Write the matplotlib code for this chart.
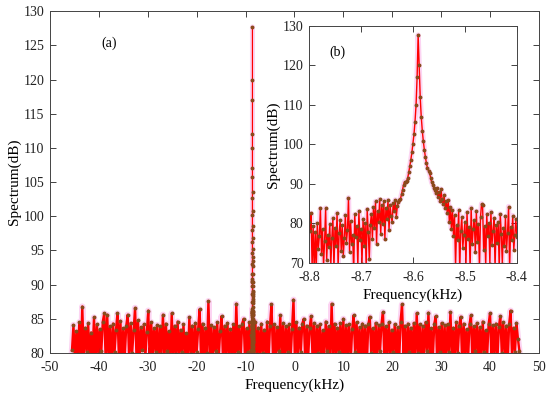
import numpy as np
import matplotlib
matplotlib.use('Agg')
import matplotlib.pyplot as plt

plt.rcParams['font.family'] = ['Liberation Serif', 'DejaVu Serif']
plt.rcParams['axes.unicode_minus'] = False

# broadband spectrum, -45.5 .. 46 kHz (dB)
noise_db = [
    80.4, 84.1, 78.6, 83.2, 79.8, 84.5, 78.1, 86.8, 79.5, 83.7, 80.2, 84.4, 78.9, 83.0, 79.6, 85.2, 78.4, 84.2,
    79.9, 83.5, 80.3, 84.6, 85.8, 78.7, 85.6, 79.4, 83.9, 78.2, 84.3, 80.1, 83.4, 85.8, 79.2, 84.7, 78.5, 83.6,
    79.7, 84.0, 85.6, 78.8, 84.4, 80.0, 83.3, 86.6, 79.1, 84.8, 78.3, 83.8, 80.4, 84.2, 79.3, 83.1, 86.2, 78.6,
    84.5, 79.5, 83.6, 80.2, 84.1, 78.4, 83.9, 79.9, 85.6, 78.9, 84.3, 80.3, 83.2, 79.0, 85.8, 78.6, 84.0, 79.8,
    84.6, 78.7, 83.4, 80.1, 84.2, 79.3, 82.9, 78.5, 85.2, 79.9, 84.0, 78.2, 84.4, 80.2, 83.5, 86.4, 79.0, 84.3,
    78.8, 83.7, 80.0, 87.6, 79.4, 84.1, 78.3, 83.8, 80.3, 84.5, 79.1, 83.2, 85.4, 78.6, 84.0, 79.7, 84.4, 78.9,
    83.5, 79.6, 84.2, 78.5, 87.2, 80.1, 83.9, 79.2, 84.3, 85.0, 78.7, 83.6, 80.2, 84.5, 79.0, 84.0, 78.4, 84.6,
    79.8, 83.7, 78.6, 84.3, 80.0, 83.4, 79.3, 84.6, 78.8, 84.0, 87.1, 79.5, 84.2, 78.3, 83.8, 80.3, 85.5, 79.1,
    84.4, 78.7, 83.9, 80.1, 84.2, 79.0, 83.5, 87.8, 78.5, 84.5, 79.8, 83.7, 80.2, 84.3, 85.0, 78.9, 84.0, 79.4,
    83.6, 85.4, 79.2, 84.4, 78.4, 84.0, 80.0, 84.2, 78.8, 83.3, 79.7, 84.6, 80.3, 83.9, 78.6, 87.2, 79.5, 84.3,
    78.9, 83.7, 80.1, 84.4, 79.0, 85.0, 78.2, 84.1, 79.8, 84.2, 78.7, 83.5, 85.5, 80.2, 84.5, 79.3, 83.8, 78.5,
    84.3, 79.6, 84.0, 78.4, 84.2, 85.3, 80.0, 83.6, 79.1, 84.4, 78.8, 84.1, 80.3, 84.3, 86.0, 78.6, 83.9, 79.7,
    84.5, 78.9, 83.4, 80.1, 84.2, 79.2, 83.8, 78.5, 84.6, 87.1, 79.9, 84.0, 78.3, 84.3, 80.2, 83.7, 79.0, 84.4,
    78.7, 85.8, 80.0, 84.2, 78.4, 83.9, 79.6, 84.5, 80.3, 85.9, 78.8, 83.6, 79.4, 84.3, 85.4, 78.2, 83.8, 80.1,
    84.4, 79.0, 84.1, 78.6, 84.2, 80.2, 86.0, 79.3, 83.7, 78.9, 84.5, 80.0, 84.0, 85.3, 78.5, 84.3, 79.7, 83.5,
    79.1, 84.2, 85.5, 78.4, 83.9, 80.3, 84.4, 79.2, 83.8, 78.7, 84.6, 80.1, 83.3, 79.5, 84.2, 85.8, 78.6, 84.1,
    79.8, 84.3, 78.9, 83.8, 85.4, 80.0, 84.5, 79.3, 84.0, 78.6, 84.2, 86.2, 79.4, 83.7, 80.2, 84.4, 82.1, 80.3,
]
noise_start, noise_stop = -45.5, 46.0

# zoomed spectrum around the tone, -8.8 .. -8.4 kHz (dB)
zoom_db = [
    80.5, 78.2, 82.6, 69.0, 79.3, 68.0, 77.8, 68.5, 80.2, 73.6, 76.9, 83.8, 72.4, 78.7, 69.2, 75.5, 83.9, 70.8, 77.2, 74.0,
    79.8, 69.5, 76.3, 81.4, 68.5, 78.9, 74.2, 82.7, 69.0, 77.5, 80.9, 73.1, 79.6, 71.8, 76.4, 82.2, 75.0, 78.3, 86.5, 72.9,
    80.6, 74.8, 77.1, 67.5, 82.3, 76.5, 79.4, 69.0, 83.1, 75.9, 78.6, 69.8, 81.2, 74.4, 80.1, 68.8, 83.6, 77.9, 70.9, 79.7,
    82.4, 76.2, 84.1, 78.8, 85.6, 74.9, 83.2, 80.5, 86.1, 77.3, 84.6, 79.9, 85.8, 76.1, 83.9, 81.2, 85.9, 78.4, 84.8, 82.0,
    80.3, 85.2, 83.1, 86.0, 81.7, 84.4, 85.5, 85.9, 86.2, 87.4, 88.6, 89.8, 90.6, 90.4, 90.8, 91.6, 93.0, 94.6, 96.2, 98.0,
    100.2, 102.6, 105.8, 110.0, 117.0, 127.7, 120.0, 112.0, 107.0, 103.5, 100.8, 98.6, 96.8, 95.2, 94.0, 93.4, 92.8, 91.6, 90.4, 89.8,
    89.1, 88.4, 87.6, 88.9, 86.8, 87.9, 85.6, 88.7, 86.2, 84.9, 87.3, 83.8, 85.7, 82.6, 86.0, 80.4, 84.2, 78.7, 83.5, 76.9,
    82.1, 69.0, 79.5, 75.8, 83.4, 68.0, 78.1, 81.7, 73.9, 77.2, 80.5, 69.4, 82.8, 76.0, 79.1, 68.2, 84.0, 74.7, 78.6, 80.9,
    72.8, 83.1, 75.4, 79.8, 68.4, 81.6, 85.0, 84.6, 73.2, 79.4, 69.2, 82.3, 76.8, 80.2, 69.7, 83.0, 74.5, 78.2, 81.4, 68.7,
    79.6, 75.1, 80.3, 68.6, 82.4, 77.3, 69.8, 78.9, 74.2, 81.8, 73.0, 77.6, 84.3, 68.3, 79.2, 75.8, 82.0, 73.4, 77.0, 81.1,
    76.5,
]
zoom_start, zoom_stop = -8.8, -8.4

f_noise = np.linspace(noise_start, noise_stop, len(noise_db))
f_zoom = np.linspace(zoom_start, zoom_stop, len(zoom_db))

red = '#ff0000'
dot = '#8a4a1c'
halo = '#fcd4f2'


def draw(ax, f, s, lw):
    ax.plot(f, s, color=halo, lw=lw + 2.8, zorder=1)
    ax.plot(f, s, color=red, lw=lw, marker='o', ms=1.8, mfc=dot, mec=dot, zorder=2)


def style(ax):
    ax.tick_params(direction='in', top=True, right=True, length=4, width=0.6,
                   labelsize=10, colors='#222222')
    ax.tick_params(axis='x', pad=6)
    ax.tick_params(axis='y', pad=4)
    for sp in ax.spines.values():
        sp.set_linewidth(0.7)
        sp.set_color('#444444')


fig = plt.figure(figsize=(5.5, 3.98), dpi=100)

ax = fig.add_axes([0.0909, 0.113, 0.889, 0.859])
draw(ax, f_noise, noise_db, 1.7)
draw(ax, f_zoom, zoom_db, 0.8)
ax.set_xlim(-50, 50)
ax.set_ylim(80, 130)
ax.set_xticks(np.arange(-50, 51, 10))
ax.set_yticks(np.arange(80, 131, 5))
ax.set_xlabel('Frequency(kHz)', fontsize=11, labelpad=3)
ax.set_ylabel('Spectrum(dB)', fontsize=11, labelpad=2)
ax.text(-38, 125.3, '(a)', fontsize=10, ha='center', va='center')
style(ax)

axin = fig.add_axes([0.5618, 0.3392, 0.378, 0.5955])
draw(axin, f_zoom, zoom_db, 1.0)
axin.set_xlim(-8.8, -8.4)
axin.set_ylim(70, 130)
axin.set_xticks(np.arange(-8.8, -8.39, 0.1))
axin.set_xticklabels(['-8.8', '-8.7', '-8.6', '-8.5', '-8.4'])
axin.set_yticks(np.arange(70, 131, 10))
axin.set_xlabel('Frequency(kHz)', fontsize=11, labelpad=3)
axin.set_ylabel('Spectrum(dB)', fontsize=11, labelpad=2)
axin.text(-8.746, 123.4, '(b)', fontsize=10, ha='center', va='center')
style(axin)

fig.savefig('out.png', dpi=100)
